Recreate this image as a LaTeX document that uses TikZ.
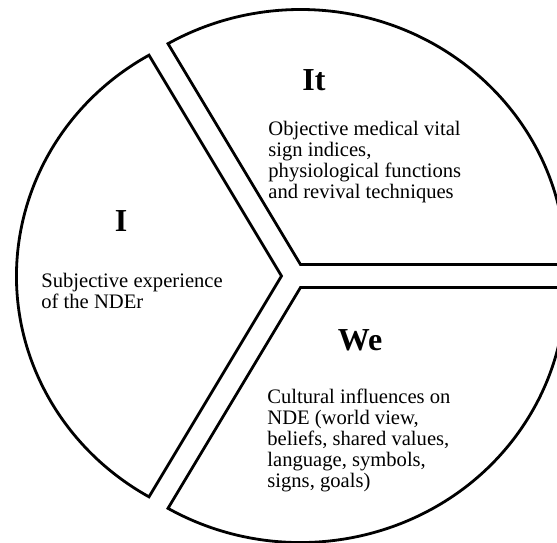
\documentclass[tikz,border=0pt]{standalone}
\usepackage{fontspec}
\setmainfont{Liberation Serif}
\usepackage{tikz}

\begin{document}
\begin{tikzpicture}[x=0.5pt, y=0.5pt,
  sector/.style={draw=black, line width=1.4pt, line join=miter},
  heading/.style={font=\fontsize{16}{18}\selectfont\bfseries, inner sep=0pt, anchor=base},
  body/.style={font=\fontsize{10.3}{10.5}\selectfont, align=left, inner sep=0pt, anchor=north west}
]
\useasboundingbox (0,0) rectangle (557,542);
\clip (0,0) rectangle (557,542);

\draw[sector] (281.5,266) -- ++(120:265 and 255)
  arc[start angle=120, end angle=240, x radius=265, y radius=255] -- cycle;
\draw[sector] (300.5,277.5) -- ++(0:265 and 255)
  arc[start angle=0, end angle=120, x radius=265, y radius=255] -- cycle;
\draw[sector] (300.5,254.5) -- ++(240:265 and 255)
  arc[start angle=240, end angle=360, x radius=265, y radius=255] -- cycle;

\node[heading] (ihead) at (121,311) {I};
\node[body] (ibody) at (41,269) {Subjective experience\\of the NDEr};

\node[heading] (ithead) at (314,451) {It};
\node[body] (itbody) at (268,421) {Objective medical vital\\sign indices,\\physiological functions\\and revival techniques};

\node[heading] (wehead) at (360,192) {We};
\node[body] (webody) at (267,153) {Cultural influences on\\NDE (world view,\\beliefs, shared values,\\language, symbols,\\signs, goals)};
\end{tikzpicture}
\end{document}
